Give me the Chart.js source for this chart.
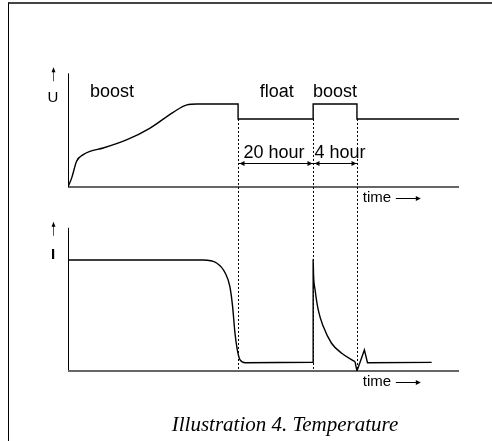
<!DOCTYPE html>
<html lang="en">
<head>
    <meta charset="UTF-8" />
    <title>Boost / float charging</title>
    <script src="https://cdn.jsdelivr.net/npm/chart.js@4.4.1/dist/chart.umd.min.js"></script>
    <style>
        body { margin: 0; background: #fff; }
        .frame { position: absolute; left: 8px; top: 2px; width: 484px; height: 439px;
                 border-top: 2px solid #444; border-left: 1px solid #000; }
        #chart { position: absolute; left: 0; top: 0; }
    </style>
</head>
<body>
    <div class="frame"></div>
    <canvas id="chart" width="492" height="441"></canvas>

<script>
    // time axis runs 0..100 (schematic), U and I are relative (1 = boost level / full current)
    const uTime = [0, 0.95, 2.2, 3.9, 5.6, 9.0, 15.1, 21.0, 26.9, 30.4, 33.0, 43.5, 43.5, 62.7, 62.7, 73.9, 73.9, 100];
    const uValue = [0, 0.11, 0.31, 0.39, 0.43, 0.47, 0.57, 0.71, 0.90, 0.99, 1, 1, 0.82, 0.82, 1, 1, 0.82, 0.82];

    const iTime = [0, 34.5, 38.0, 40.2, 41.4, 42.1, 42.7, 43.3, 44.0, 45.3, 62.7, 62.7, 62.8, 63.2, 64.0, 65.3, 67.4, 70.0, 73.4];
    const iValue = [1, 1, 0.973, 0.883, 0.76, 0.58, 0.342, 0.19, 0.10, 0.075, 0.078, 1, 0.865, 0.73, 0.55, 0.40, 0.25, 0.16, 0.084];

    // small spike after the second boost ends
    const tailTime = [73.4, 73.9, 75.8, 76.6, 93.0];
    const tailValue = [0.084, 0, 0.19, 0.075, 0.078];

    // phase boundaries (dashed lines) and the dimension labels between them
    const phaseTimes = [43.5, 62.7, 73.9];
    const phaseLabels = ['boost', 'float', 'boost'];
    const spanLabels = ['20 hour', '4 hour'];
    const caption = 'Illustration 4. Temperature';

    const toXY = (xs, ys) => xs.map((x, i) => ({ x: x, y: ys[i] }));

    // layout of the two panels on the one canvas
    const areaTop = 68, areaBottom = 371;
    const uZero = 187, uPx = 83;   // pixel of U=0, px per unit
    const iPx = 111;               // I=0 sits on areaBottom

    function arrowHead(ctx, x, y, dir) {
        // dir: 'l','r','u'
        ctx.beginPath();
        if (dir === 'r') { ctx.moveTo(x, y); ctx.lineTo(x - 5, y - 2.5); ctx.lineTo(x - 5, y + 2.5); }
        if (dir === 'l') { ctx.moveTo(x, y); ctx.lineTo(x + 5, y - 2.5); ctx.lineTo(x + 5, y + 2.5); }
        if (dir === 'u') { ctx.moveTo(x, y); ctx.lineTo(x - 2, y + 5); ctx.lineTo(x + 2, y + 5); }
        ctx.closePath();
        ctx.fill();
    }

    const axesPlugin = {
        id: 'axesPlugin',
        beforeDatasetsDraw(chart) {
            const ctx = chart.ctx;
            const x = chart.scales.x, yU = chart.scales.yU, yI = chart.scales.yI;
            const x0 = x.getPixelForValue(0), x1 = x.getPixelForValue(100);
            ctx.save();
            // y axes
            ctx.strokeStyle = '#000';
            ctx.lineWidth = 1;
            ctx.beginPath();
            ctx.moveTo(x0 + 0.5, yU.getPixelForValue(0));
            ctx.lineTo(x0 + 0.5, yU.getPixelForValue(1.37));
            ctx.moveTo(x0 + 0.5, yI.getPixelForValue(0));
            ctx.lineTo(x0 + 0.5, yI.getPixelForValue(1.29));
            ctx.stroke();
            // x axes
            ctx.strokeStyle = '#666';
            ctx.lineWidth = 2;
            ctx.beginPath();
            ctx.moveTo(x0, yU.getPixelForValue(0));
            ctx.lineTo(x1, yU.getPixelForValue(0));
            ctx.moveTo(x0, yI.getPixelForValue(0));
            ctx.lineTo(x1, yI.getPixelForValue(0));
            ctx.stroke();

            // dashed phase lines
            ctx.strokeStyle = '#000';
            ctx.lineWidth = 1;
            ctx.setLineDash([2, 2]);
            ctx.beginPath();
            phaseTimes.forEach(t => {
                const px = Math.round(x.getPixelForValue(t)) + 0.5;
                ctx.moveTo(px, yU.getPixelForValue(0.82));
                ctx.lineTo(px, yI.getPixelForValue(0));
            });
            ctx.stroke();
            ctx.setLineDash([]);
            ctx.restore();
        },
        afterDraw(chart) {
            const ctx = chart.ctx;
            const x = chart.scales.x, yU = chart.scales.yU, yI = chart.scales.yI;
            const x0 = x.getPixelForValue(0);
            ctx.save();
            ctx.fillStyle = '#000';
            ctx.font = '18px "Liberation Sans", Arial, sans-serif';
            ctx.textBaseline = 'middle';

            // phase names above the U curve
            const labelY = yU.getPixelForValue(1) - 12;
            ctx.textAlign = 'left';
            ctx.fillText(phaseLabels[0], x0 + 22, labelY);
            ctx.textAlign = 'center';
            ctx.fillText(phaseLabels[1], x.getPixelForValue(53.4), labelY);
            ctx.fillText(phaseLabels[2], x.getPixelForValue(68.3), labelY);

            // dimension arrows
            const dimY = Math.round(yU.getPixelForValue(0.29)) + 0.5;
            const p = phaseTimes.map(t => Math.round(x.getPixelForValue(t)) + 0.5);
            ctx.strokeStyle = '#000';
            ctx.lineWidth = 1;
            ctx.beginPath();
            ctx.moveTo(p[0], dimY); ctx.lineTo(p[2], dimY);
            ctx.stroke();
            arrowHead(ctx, p[0] + 1, dimY, 'l');
            arrowHead(ctx, p[1] - 1, dimY, 'r');
            arrowHead(ctx, p[1] + 1, dimY, 'l');
            arrowHead(ctx, p[2] - 1, dimY, 'r');
            ctx.textAlign = 'left';
            ctx.fillText(spanLabels[0], p[0] + 5, dimY - 10);
            ctx.fillText(spanLabels[1], p[1] + 1, dimY - 10);

            // axis names with small up arrows
            ctx.strokeStyle = '#555';
            ctx.fillStyle = '#000';
            [[yU, 'U', 1.37], [yI, 'I', 1.29]].forEach(([s, name, top]) => {
                const ay = s.getPixelForValue(top);
                ctx.beginPath();
                ctx.moveTo(53.5, ay - 5);
                ctx.lineTo(53.5, ay + 8);
                ctx.stroke();
                arrowHead(ctx, 53.5, ay - 6, 'u');
            });
            ctx.font = '15px "Liberation Sans", Arial, sans-serif';
            ctx.textAlign = 'center';
            ctx.fillText('U', 53, yU.getPixelForValue(1.37) + 25);
            ctx.font = 'bold 15px "Liberation Sans", Arial, sans-serif';
            ctx.fillText('I', 53, yI.getPixelForValue(1.29) + 27);

            // time labels below each x axis
            ctx.font = '15px "Liberation Sans", Arial, sans-serif';
            ctx.textAlign = 'left';
            [yU, yI].forEach(s => {
                const ty = s.getPixelForValue(0) + 11;
                const tx = x.getPixelForValue(75.4);
                ctx.fillText('time', tx, ty);
                ctx.beginPath();
                ctx.moveTo(tx + 33, Math.round(ty) + 0.5);
                ctx.lineTo(tx + 54, Math.round(ty) + 0.5);
                ctx.strokeStyle = '#000';
                ctx.stroke();
                arrowHead(ctx, tx + 58, Math.round(ty) + 0.5, 'r');
            });

            // caption
            ctx.font = 'italic 21px "Liberation Serif", "Times New Roman", serif';
            ctx.textAlign = 'center';
            ctx.fillText(caption, 285, 425);
            ctx.restore();
        }
    };

    const chart = new Chart(document.getElementById('chart'), {
        type: 'line',
        data: {
            datasets: [
                {
                    data: toXY(uTime, uValue),
                    yAxisID: 'yU',
                    borderColor: '#000',
                    borderWidth: 1.4,
                    pointRadius: 0,
                    cubicInterpolationMode: 'monotone'
                },
                {
                    data: toXY(iTime, iValue),
                    yAxisID: 'yI',
                    borderColor: '#000',
                    borderWidth: 1.4,
                    pointRadius: 0,
                    cubicInterpolationMode: 'monotone'
                },
                {
                    data: toXY(tailTime, tailValue),
                    yAxisID: 'yI',
                    borderColor: '#000',
                    borderWidth: 1.4,
                    pointRadius: 0,
                    tension: 0
                }
            ]
        },
        options: {
            responsive: false,
            animation: false,
            layout: { padding: { left: 68, right: 33, top: areaTop, bottom: 441 - areaBottom } },
            plugins: { legend: false, tooltip: { enabled: false } },
            scales: {
                x: { type: 'linear', min: 0, max: 100, display: false },
                yU: {
                    type: 'linear', display: false,
                    min: -(areaBottom - uZero) / uPx,
                    max: (uZero - areaTop) / uPx
                },
                yI: {
                    type: 'linear', display: false,
                    min: 0,
                    max: (areaBottom - areaTop) / iPx
                }
            }
        },
        plugins: [axesPlugin]
    });
</script>
</body>
</html>
